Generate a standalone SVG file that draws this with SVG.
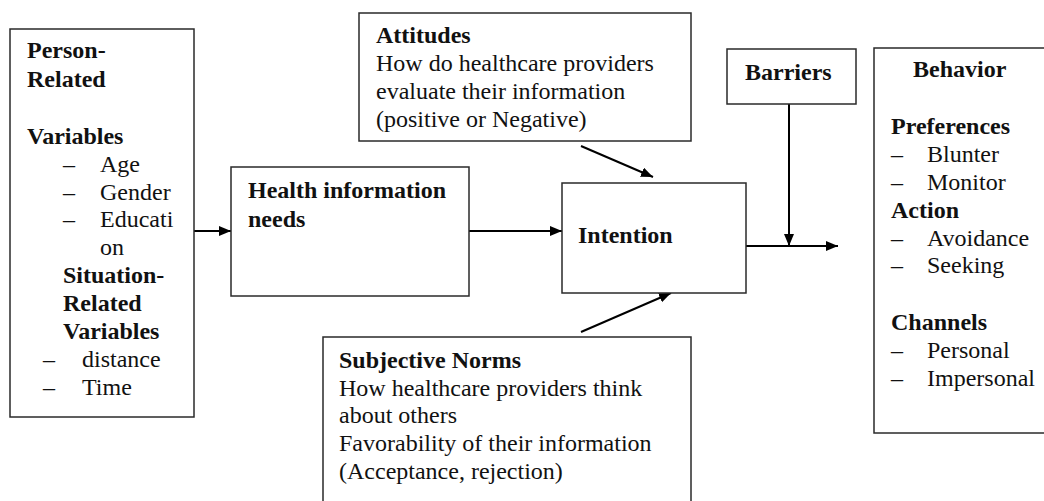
<svg xmlns="http://www.w3.org/2000/svg" width="1044" height="501" viewBox="0 0 1044 501" font-family="'Liberation Serif', 'Times New Roman', Times, 'Noto Serif', 'DejaVu Serif', serif">
  <style>
    .box { fill: #fff; stroke: #2a2a2a; stroke-width: 1.5; }
    .wire { fill: none; stroke: #000; stroke-width: 2; }
    .t { font-family: 'Liberation Serif', 'Times New Roman', Times, 'Noto Serif', 'DejaVu Serif', serif; font-size: 24px; fill: #111; }
    .b { font-weight: bold; }
  </style>
  <defs>
    <marker id="arrow" markerUnits="userSpaceOnUse" markerWidth="13" markerHeight="11" refX="12" refY="5" orient="auto">
      <path d="M0,0 L12,5 L0,10 z" fill="#000"/>
    </marker>
  </defs>

  <rect width="1044" height="501" fill="#fff"/>

  <!-- connectors -->
  <g id="connectors">
    <line class="wire" x1="194" y1="231" x2="231" y2="231" marker-end="url(#arrow)"/>
    <line class="wire" x1="469" y1="231" x2="562" y2="231" marker-end="url(#arrow)"/>
    <line class="wire" x1="581" y1="146" x2="653" y2="177" marker-end="url(#arrow)"/>
    <line class="wire" x1="581" y1="332" x2="671" y2="293" marker-end="url(#arrow)"/>
    <line class="wire" x1="746" y1="246" x2="838" y2="246" marker-end="url(#arrow)"/>
    <line class="wire" x1="789" y1="104" x2="789" y2="246" marker-end="url(#arrow)"/>
  </g>

  <!-- person / situation variables -->
  <g id="variables" class="t">
    <rect class="box" x="10" y="29" width="184" height="388"/>
    <text class="b" x="27" y="58">Person-</text>
    <text class="b" x="27" y="87">Related</text>
    <text class="b" x="27" y="144">Variables</text>
    <text x="63" y="172">–</text><text x="100" y="172">Age</text>
    <text x="63" y="200">–</text><text x="100" y="200">Gender</text>
    <text x="63" y="227">–</text><text x="100" y="227">Educati</text>
    <text x="100" y="255">on</text>
    <text class="b" x="63" y="283">Situation-</text>
    <text class="b" x="63" y="311">Related</text>
    <text class="b" x="63" y="339">Variables</text>
    <text x="43" y="367">–</text><text x="82" y="367">distance</text>
    <text x="43" y="395">–</text><text x="82" y="395">Time</text>
  </g>

  <!-- health information needs -->
  <g id="needs" class="t">
    <rect class="box" x="231" y="167" width="238" height="129"/>
    <text class="b" x="248" y="198">Health information</text>
    <text class="b" x="248" y="227">needs</text>
  </g>

  <!-- attitudes -->
  <g id="attitudes" class="t">
    <rect class="box" x="359" y="13" width="332" height="128"/>
    <text class="b" x="376" y="43">Attitudes</text>
    <text x="376" y="71">How do healthcare providers</text>
    <text x="376" y="99">evaluate their information</text>
    <text x="376" y="127">(positive or Negative)</text>
  </g>

  <!-- intention -->
  <g id="intention" class="t">
    <rect class="box" x="562" y="183" width="184" height="110"/>
    <text class="b" x="578" y="243">Intention</text>
  </g>

  <!-- subjective norms -->
  <g id="norms" class="t">
    <rect class="box" x="323" y="337" width="368" height="180"/>
    <text class="b" x="339" y="368">Subjective Norms</text>
    <text x="339" y="396">How healthcare providers think</text>
    <text x="339" y="423">about others</text>
    <text x="339" y="451">Favorability of their information</text>
    <text x="339" y="479">(Acceptance, rejection)</text>
  </g>

  <!-- barriers -->
  <g id="barriers" class="t">
    <rect class="box" x="727" y="49" width="129" height="55"/>
    <text class="b" x="745" y="80">Barriers</text>
  </g>

  <!-- behavior -->
  <g id="behavior" class="t">
    <rect class="box" x="874" y="48" width="180" height="385"/>
    <text class="b" x="913" y="77">Behavior</text>
    <text class="b" x="891" y="134">Preferences</text>
    <text x="891" y="162">–</text><text x="927" y="162">Blunter</text>
    <text x="891" y="190">–</text><text x="927" y="190">Monitor</text>
    <text class="b" x="891" y="218">Action</text>
    <text x="891" y="246">–</text><text x="927" y="246">Avoidance</text>
    <text x="891" y="273">–</text><text x="927" y="273">Seeking</text>
    <text class="b" x="891" y="330">Channels</text>
    <text x="891" y="358">–</text><text x="927" y="358">Personal</text>
    <text x="891" y="386">–</text><text x="927" y="386">Impersonal</text>
  </g>
</svg>
